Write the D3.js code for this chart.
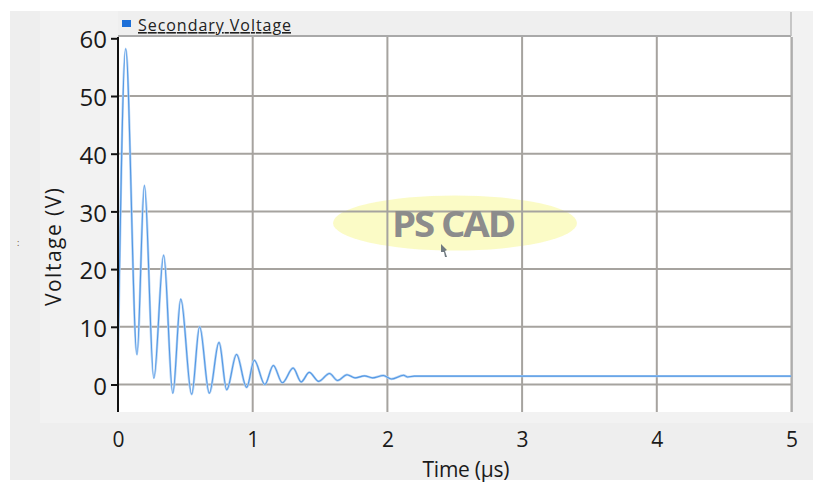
<!DOCTYPE html>
<html>
<head>
<meta charset="utf-8">
<script src="https://cdn.jsdelivr.net/npm/d3@7"></script>
<style>
  html, body { margin: 0; padding: 0; background: #ffffff; }
  svg { display: block; font-family: "Open Sans", "Noto Sans", sans-serif; }
</style>
</head>
<body>
<svg id="chart" width="813" height="482"></svg>
<script>
// ---- data ----
const timeUs = [0, 0.057, 0.141, 0.196, 0.266, 0.339, 0.407, 0.466, 0.547, 0.606,
  0.678, 0.75, 0.807, 0.88, 0.955, 1.012, 1.09, 1.153, 1.22, 1.30,
  1.36, 1.42, 1.49, 1.57, 1.63, 1.70, 1.76, 1.83, 1.89, 1.97,
  2.03, 2.12, 2.15, 2.2, 5.0];
const voltage = [4.3, 58.2, 5.2, 34.5, 1.1, 22.4, -1.5, 14.8, -1.7, 10.0,
  -1.5, 7.3, -0.9, 5.2, -0.5, 4.2, 0.0, 3.3, 0.3, 2.85,
  0.45, 2.1, 0.55, 1.9, 0.7, 1.7, 1.15, 1.5, 1.15, 1.55,
  0.95, 1.6, 1.3, 1.45, 1.45];
const xTicks = [0, 1, 2, 3, 4, 5];
const yTicks = [0, 10, 20, 30, 40, 50, 60];
const seriesName = "Secondary Voltage";
const xTitle = "Time (µs)";
const yTitle = "Voltage (V)";
const watermark = "PS CAD";

const svg = d3.select("#chart");
const W = 813, H = 482;
const plot = { left: 118, right: 792, top: 37, bottom: 412 };

const x = d3.scaleLinear().domain([0, 5]).range([plot.left, plot.right - 0.5]);
const y = d3.scaleLinear().domain([0, 60]).range([384.5, 38.3]);

// panel backgrounds
svg.append("rect").attr("x", 10).attr("y", 11).attr("width", W - 10).attr("height", 469).attr("fill", "#eeeeee");
svg.append("rect").attr("x", 40).attr("y", 11).attr("width", W - 40).attr("height", 412).attr("fill", "#f2f2f2");

// legend bar
svg.append("rect").attr("x", plot.left).attr("y", 11).attr("width", plot.right - plot.left - 1).attr("height", 25).attr("fill", "#efefef");
svg.append("line").attr("x1", plot.left).attr("x2", plot.right - 1).attr("y1", 36).attr("y2", 36).attr("stroke", "#a9a9a9").attr("stroke-width", 2);
svg.append("line").attr("x1", plot.right - 1).attr("x2", plot.right - 1).attr("y1", 12).attr("y2", 36).attr("stroke", "#b8b8b8").attr("stroke-width", 1.5);
svg.append("rect").attr("x", 122).attr("y", 20).attr("width", 9).attr("height", 7).attr("fill", "#1c6fd8");
svg.append("text").attr("x", 138).attr("y", 31).attr("font-size", 16).attr("fill", "#222")
  .attr("text-decoration", "underline").attr("textLength", 153).text(seriesName);

// plot area
svg.append("rect").attr("x", plot.left).attr("y", plot.top).attr("width", plot.right - plot.left).attr("height", plot.bottom - plot.top).attr("fill", "#ffffff");

// watermark ellipse (under grid)
svg.append("ellipse").attr("cx", 455).attr("cy", 223).attr("rx", 122).attr("ry", 27.5).attr("fill", "#f9f9a8").attr("opacity", 0.65);

// grid
const grid = svg.append("g");
grid.selectAll("line.h").data(yTicks.filter(d => d < 60)).join("line")
  .attr("x1", plot.left).attr("x2", plot.right).attr("y1", d => y(d)).attr("y2", d => y(d))
  .attr("stroke", "#a6a39f").attr("stroke-width", 2);
grid.selectAll("line.v").data(xTicks.filter(d => d > 0)).join("line")
  .attr("x1", d => x(d)).attr("x2", d => x(d)).attr("y1", plot.top).attr("y2", plot.bottom)
  .attr("stroke", "#a6a39f").attr("stroke-width", 2);

// watermark text
svg.append("text").attr("x", 453).attr("y", 237).attr("text-anchor", "middle")
  .attr("font-size", 36).attr("font-weight", "bold").attr("fill", "#8c8c8c")
  .attr("letter-spacing", -2).attr("textLength", 122).attr("lengthAdjust", "spacingAndGlyphs")
  .text(watermark);
svg.append("path").attr("d", "M441,244 L447,250 L445,251 L447,257 L445,257 L444,252 L441,252 Z")
  .attr("fill", "#707a80");

// series
const line = d3.line().x((d, i) => x(timeUs[i])).y((d, i) => y(voltage[i])).curve(d3.curveMonotoneX);
svg.append("path").datum(voltage).attr("d", line).attr("fill", "none")
  .attr("stroke", "#b3d2f4").attr("stroke-width", 2.4);
svg.append("path").datum(voltage).attr("d", line).attr("fill", "none")
  .attr("stroke", "#5398e4").attr("stroke-width", 1.1);

// y axis
const yAxis = d3.axisLeft(y).tickValues(yTicks).tickSize(7).tickPadding(4).tickFormat(d3.format("d"));
const ya = svg.append("g").attr("transform", `translate(${plot.left},0)`).call(yAxis);
ya.select(".domain").remove();
ya.selectAll(".tick line").attr("stroke", "#111").attr("stroke-width", 2);
ya.selectAll(".tick text").attr("font-size", 24).attr("fill", "#1a1a1a").attr("font-family", "Open Sans").attr("dy", "0.4em");
svg.append("line").attr("x1", plot.left).attr("x2", plot.left).attr("y1", plot.top).attr("y2", plot.bottom).attr("stroke", "#111").attr("stroke-width", 2);
svg.append("line").attr("x1", plot.right).attr("x2", plot.right).attr("y1", plot.top).attr("y2", plot.bottom).attr("stroke", "#b0b0b0").attr("stroke-width", 1.5);

// x axis labels
const xAxis = d3.axisBottom(x).tickValues(xTicks).tickSize(0).tickPadding(0).tickFormat(d3.format("d"));
const xa = svg.append("g").attr("transform", `translate(0,432)`).call(xAxis);
xa.select(".domain").remove();
xa.selectAll(".tick text").attr("font-size", 21).attr("fill", "#1a1a1a").attr("font-family", "Open Sans").attr("dy", "0.72em");

// titles
svg.append("text").attr("x", 466).attr("y", 477).attr("text-anchor", "middle").attr("font-size", 21).attr("fill", "#1a1a1a")
  .attr("textLength", 87).text(xTitle);
svg.append("text").attr("transform", "translate(61,247) rotate(-90)").attr("text-anchor", "middle")
  .attr("font-size", 21).attr("fill", "#1a1a1a").attr("textLength", 118).text(yTitle);
svg.append("text").attr("x", 17).attr("y", 246).attr("font-size", 9).attr("fill", "#6b4a2a").text(":");
</script>
</body>
</html>
